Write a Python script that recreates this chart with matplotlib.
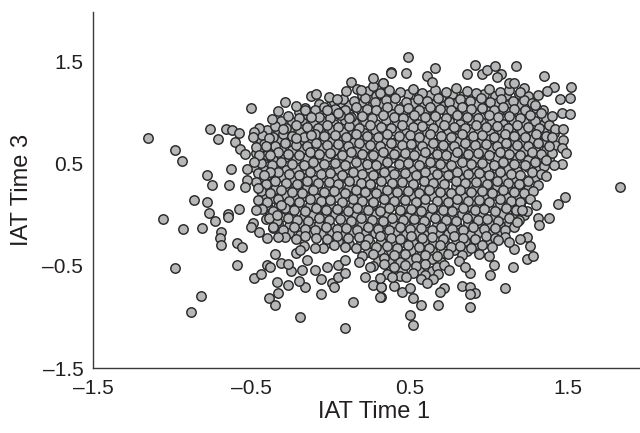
import matplotlib
matplotlib.use("Agg")
import matplotlib.pyplot as plt

plt.rcParams['font.family'] = ['Liberation Sans', 'DejaVu Sans']

tick_values = [-1.5, -0.5, 0.5, 1.5]
tick_labels = ['\u20131.5', '\u20130.5', '0.5', '1.5']

# Interior of the cloud, read band by band (IAT Time 1, IAT Time 3)
band_a = [(0.24,1.21),(0.31,1.19),(0.37,1.22),(0.44,1.2),(0.52,1.23),(0.58,1.19),(0.66,1.22),(0.73,1.2),(0.79,1.24),(0.86,1.21),(0.92,1.19),(1.0,1.23),(1.07,1.2),(1.13,1.22),(1.19,1.18),
(0.02,1.1),(0.08,1.13),(0.15,1.11),(0.22,1.14),(0.28,1.1),(0.35,1.12),(0.41,1.14),(0.48,1.1),(0.55,1.13),(0.61,1.11),(0.68,1.14),(0.75,1.1),(0.82,1.13),(0.88,1.11),(0.95,1.14),(1.01,1.1),(1.08,1.13),(1.15,1.11),(1.22,1.12),(1.27,1.09)]
band_b = [(-0.16,1.04),(-0.1,1.02),(-0.04,1.05),(0.03,1.03),(0.09,1.02),(0.16,1.05),(0.23,1.03),(0.29,1.02),(0.36,1.05),(0.43,1.03),(0.49,1.04),(0.56,1.02),(0.63,1.05),(0.69,1.03),(0.76,1.02),(0.83,1.05),(0.89,1.03),(0.96,1.04),(1.03,1.02),(1.09,1.05),(1.16,1.03),(1.23,1.02),(1.3,1.04),
(-0.27,0.96),(-0.2,0.94),(-0.14,0.97),(-0.07,0.95),(0.0,0.94),(0.06,0.97),(0.13,0.95),(0.2,0.96),(0.26,0.94),(0.33,0.97),(0.4,0.95),(0.46,0.94),(0.53,0.97),(0.6,0.95),(0.66,0.96),(0.73,0.94),(0.8,0.97),(0.86,0.95),(0.93,0.94),(1.0,0.97),(1.06,0.95),(1.13,0.96),(1.2,0.94),(1.26,0.97),(1.36,0.94)]
band_c = [(-0.35,0.87),(-0.28,0.85),(-0.22,0.88),(-0.15,0.86),(-0.08,0.85),(-0.02,0.88),(0.05,0.86),(0.12,0.87),(0.18,0.85),(0.25,0.88),(0.32,0.86),(0.38,0.85),(0.45,0.88),(0.52,0.86),(0.58,0.87),(0.65,0.85),(0.72,0.88),(0.78,0.86),(0.85,0.85),(0.92,0.88),(0.98,0.86),(1.05,0.87),(1.12,0.85),(1.18,0.88),(1.25,0.86),(1.32,0.85),(1.38,0.88),(1.42,0.84),
(-0.43,0.78),(-0.36,0.76),(-0.3,0.79),(-0.24,0.77),(-0.17,0.76),(-0.1,0.79),(-0.04,0.77),(0.03,0.78),(0.1,0.76),(0.16,0.79),(0.23,0.77),(0.3,0.76),(0.36,0.79),(0.43,0.77),(0.5,0.78),(0.56,0.76),(0.63,0.79),(0.7,0.77),(0.76,0.76),(0.83,0.79),(0.9,0.77),(0.96,0.78),(1.03,0.76),(1.1,0.79),(1.16,0.77),(1.23,0.76),(1.3,0.79),(1.36,0.77)]
band_d = [(-0.42,0.69),(-0.35,0.67),(-0.29,0.7),(-0.22,0.68),(-0.15,0.67),(-0.09,0.7),(-0.02,0.68),(0.05,0.69),(0.11,0.67),(0.18,0.7),(0.25,0.68),(0.31,0.67),(0.38,0.7),(0.45,0.68),(0.51,0.69),(0.58,0.67),(0.65,0.7),(0.71,0.68),(0.78,0.67),(0.85,0.7),(0.91,0.68),(0.98,0.69),(1.05,0.67),(1.11,0.7),(1.18,0.68),(1.25,0.67),(1.31,0.7),(1.42,0.68),
(-0.47,0.6),(-0.4,0.58),(-0.33,0.61),(-0.27,0.59),(-0.2,0.58),(-0.13,0.61),(-0.07,0.59),(0.0,0.6),(0.07,0.58),(0.13,0.61),(0.2,0.59),(0.27,0.58),(0.33,0.61),(0.4,0.59),(0.47,0.6),(0.53,0.58),(0.6,0.61),(0.67,0.59),(0.73,0.58),(0.8,0.61),(0.87,0.59),(0.93,0.6),(1.0,0.58),(1.07,0.61),(1.13,0.59),(1.2,0.58),(1.27,0.61),(1.33,0.59),(1.4,0.6)]
band_e = [(-0.44,0.5),(-0.37,0.48),(-0.31,0.51),(-0.24,0.49),(-0.17,0.48),(-0.11,0.51),(-0.04,0.49),(0.03,0.5),(0.09,0.48),(0.16,0.51),(0.23,0.49),(0.29,0.48),(0.36,0.51),(0.43,0.49),(0.49,0.5),(0.56,0.48),(0.63,0.51),(0.69,0.49),(0.76,0.48),(0.83,0.51),(0.89,0.49),(0.96,0.5),(1.03,0.48),(1.09,0.51),(1.16,0.49),(1.23,0.48),(1.29,0.51),(1.35,0.47),
(-0.46,0.41),(-0.4,0.39),(-0.33,0.42),(-0.26,0.4),(-0.2,0.39),(-0.13,0.42),(-0.06,0.4),(0.0,0.41),(0.07,0.39),(0.14,0.42),(0.2,0.4),(0.27,0.39),(0.34,0.42),(0.4,0.4),(0.47,0.41),(0.54,0.39),(0.6,0.42),(0.67,0.4),(0.74,0.39),(0.8,0.42),(0.87,0.4),(0.94,0.41),(1.0,0.39),(1.07,0.42),(1.14,0.4),(1.2,0.39),(1.27,0.42),(1.33,0.4)]
band_f = [(-0.47,0.32),(-0.41,0.3),(-0.35,0.33),(-0.28,0.31),(-0.21,0.3),(-0.15,0.33),(-0.08,0.31),(-0.01,0.32),(0.05,0.3),(0.12,0.33),(0.19,0.31),(0.25,0.3),(0.32,0.33),(0.39,0.31),(0.45,0.32),(0.52,0.3),(0.59,0.33),(0.65,0.31),(0.72,0.3),(0.79,0.33),(0.85,0.31),(0.92,0.32),(0.99,0.3),(1.05,0.33),(1.12,0.31),(1.19,0.3),(1.25,0.33),(1.31,0.29),
(-0.44,0.23),(-0.38,0.21),(-0.31,0.24),(-0.24,0.22),(-0.18,0.21),(-0.11,0.24),(-0.04,0.22),(0.02,0.23),(0.09,0.21),(0.16,0.24),(0.22,0.22),(0.29,0.21),(0.36,0.24),(0.42,0.22),(0.49,0.23),(0.56,0.21),(0.62,0.24),(0.69,0.22),(0.76,0.21),(0.82,0.24),(0.89,0.22),(0.96,0.23),(1.02,0.21),(1.09,0.24),(1.16,0.22),(1.22,0.21),(1.28,0.23)]
band_g = [(-0.46,0.14),(-0.4,0.12),(-0.33,0.15),(-0.26,0.13),(-0.2,0.12),(-0.13,0.15),(-0.06,0.13),(0.0,0.14),(0.07,0.12),(0.14,0.15),(0.2,0.13),(0.27,0.12),(0.34,0.15),(0.4,0.13),(0.47,0.14),(0.54,0.12),(0.6,0.15),(0.67,0.13),(0.74,0.12),(0.8,0.15),(0.87,0.13),(0.94,0.14),(1.0,0.12),(1.07,0.15),(1.14,0.13),(1.2,0.12),(1.26,0.15),
(-0.43,0.05),(-0.36,0.03),(-0.29,0.06),(-0.23,0.04),(-0.16,0.03),(-0.09,0.06),(-0.03,0.04),(0.04,0.05),(0.11,0.03),(0.17,0.06),(0.24,0.04),(0.31,0.03),(0.37,0.06),(0.44,0.04),(0.51,0.05),(0.57,0.03),(0.64,0.06),(0.71,0.04),(0.77,0.03),(0.84,0.06),(0.91,0.04),(0.97,0.05),(1.04,0.03),(1.11,0.06),(1.17,0.04),(1.24,0.03)]
band_h = [(-0.41,-0.04),(-0.34,-0.06),(-0.27,-0.03),(-0.21,-0.05),(-0.14,-0.06),(-0.07,-0.03),(-0.01,-0.05),(0.06,-0.04),(0.13,-0.06),(0.19,-0.03),(0.26,-0.05),(0.33,-0.06),(0.39,-0.03),(0.46,-0.05),(0.53,-0.04),(0.59,-0.06),(0.66,-0.03),(0.73,-0.05),(0.79,-0.06),(0.86,-0.03),(0.93,-0.05),(0.99,-0.04),(1.06,-0.06),(1.13,-0.03),(1.19,-0.05),
(-0.36,-0.13),(-0.3,-0.15),(-0.23,-0.12),(-0.16,-0.14),(-0.1,-0.15),(-0.03,-0.12),(0.04,-0.14),(0.1,-0.13),(0.17,-0.15),(0.24,-0.12),(0.3,-0.14),(0.37,-0.15),(0.44,-0.12),(0.5,-0.14),(0.57,-0.13),(0.64,-0.15),(0.7,-0.12),(0.77,-0.14),(0.84,-0.15),(0.9,-0.12),(0.97,-0.14),(1.04,-0.13),(1.1,-0.15),(1.16,-0.12)]
band_i = [(-0.29,-0.22),(-0.22,-0.24),(-0.16,-0.21),(-0.09,-0.23),(-0.02,-0.24),(0.04,-0.21),(0.11,-0.23),(0.18,-0.22),(0.24,-0.24),(0.31,-0.21),(0.38,-0.23),(0.44,-0.24),(0.51,-0.21),(0.58,-0.23),(0.64,-0.22),(0.71,-0.24),(0.78,-0.21),(0.84,-0.23),(0.91,-0.24),(0.98,-0.21),(1.04,-0.23),(1.1,-0.22),
(-0.17,-0.31),(-0.05,-0.33),(0.02,-0.3),(0.09,-0.32),(0.16,-0.33),(0.22,-0.3),(0.29,-0.32),(0.36,-0.31),(0.42,-0.33),(0.49,-0.3),(0.56,-0.32),(0.62,-0.33),(0.69,-0.3),(0.76,-0.32),(0.82,-0.31),(0.89,-0.33),(0.96,-0.3),
(0.2,-0.41),(0.27,-0.39),(0.34,-0.42),(0.4,-0.4),(0.47,-0.39),(0.54,-0.42),(0.6,-0.4),(0.67,-0.41),(0.74,-0.39),(0.83,-0.4),
(0.27,-0.5),(0.34,-0.48),(0.4,-0.51),(0.47,-0.49),(0.54,-0.5),(0.6,-0.48),(0.67,-0.51),(0.72,-0.49),
(0.36,-0.58),(0.44,-0.6),(0.52,-0.57),(0.6,-0.59),(0.68,-0.58)]

# Second reading of the interior, points showing between the first bands
fill_a = [(0.2,1.17),(0.29,1.16),(0.34,1.18),(0.41,1.15),(0.49,1.18),(0.56,1.16),(0.63,1.17),(0.7,1.15),(0.77,1.18),(0.84,1.16),(0.9,1.15),(0.97,1.18),(1.04,1.16),(1.11,1.17),(1.2,1.15),(1.25,1.16),
(-0.07,1.08),(0.0,1.06),(0.06,1.09),(0.12,1.07),(0.19,1.08),(0.26,1.06),(0.32,1.08),(0.39,1.07),(0.46,1.06),(0.52,1.09),(0.59,1.07),(0.66,1.08),(0.72,1.06),(0.79,1.09),(0.86,1.07),(0.92,1.08),(0.99,1.06),(1.05,1.09),(1.12,1.07),(1.19,1.08),(1.26,1.06),
(-0.2,1.0),(-0.13,0.99),(-0.07,1.01),(0.0,0.99),(0.06,1.0),(0.12,0.98),(0.19,1.01),(0.26,0.99),(0.33,1.0),(0.39,0.98),(0.46,1.01),(0.52,0.99),(0.59,1.0),(0.66,0.98),(0.73,1.01),(0.79,0.99),(0.86,1.0),(0.92,0.98),(0.99,1.01),(1.06,0.99),(1.12,1.0),(1.19,0.98),(1.26,1.01),(1.34,1.02)]
fill_b = [(-0.31,0.91),(-0.24,0.9),(-0.18,0.92),(-0.11,0.9),(-0.05,0.91),(0.02,0.89),(0.09,0.92),(0.15,0.9),(0.22,0.91),(0.29,0.89),(0.35,0.92),(0.42,0.9),(0.49,0.91),(0.55,0.89),(0.62,0.92),(0.69,0.9),(0.75,0.91),(0.82,0.89),(0.89,0.92),(0.95,0.9),(1.02,0.91),(1.09,0.89),(1.15,0.92),(1.22,0.9),(1.29,0.91),(1.35,0.89),
(-0.4,0.83),(-0.33,0.81),(-0.26,0.83),(-0.19,0.81),(-0.13,0.82),(-0.06,0.8),(0.01,0.83),(0.08,0.81),(0.14,0.82),(0.21,0.8),(0.28,0.83),(0.34,0.81),(0.41,0.82),(0.48,0.8),(0.54,0.83),(0.61,0.81),(0.68,0.82),(0.74,0.8),(0.81,0.83),(0.88,0.81),(0.94,0.82),(1.01,0.8),(1.08,0.83),(1.14,0.81),(1.21,0.82),(1.28,0.8),(1.34,0.83),(1.41,0.8),
(-0.44,0.73),(-0.38,0.72),(-0.32,0.74),(-0.25,0.72),(-0.19,0.73),(-0.12,0.71),(-0.05,0.74),(0.01,0.72),(0.08,0.73),(0.15,0.71),(0.21,0.74),(0.28,0.72),(0.35,0.73),(0.41,0.71),(0.48,0.74),(0.55,0.72),(0.61,0.73),(0.68,0.71),(0.75,0.74),(0.81,0.72),(0.88,0.73),(0.95,0.71),(1.01,0.74),(1.08,0.72),(1.15,0.73),(1.21,0.71),(1.28,0.74),(1.35,0.72)]
fill_c = [(-0.45,0.64),(-0.38,0.63),(-0.31,0.65),(-0.24,0.63),(-0.18,0.64),(-0.11,0.62),(-0.05,0.65),(0.02,0.63),(0.09,0.64),(0.16,0.62),(0.22,0.65),(0.29,0.63),(0.36,0.64),(0.42,0.62),(0.49,0.65),(0.56,0.63),(0.62,0.64),(0.69,0.62),(0.76,0.65),(0.82,0.63),(0.89,0.64),(0.96,0.62),(1.02,0.65),(1.09,0.63),(1.16,0.64),(1.22,0.62),(1.29,0.65),(1.36,0.63),
(-0.42,0.55),(-0.36,0.53),(-0.29,0.56),(-0.22,0.54),(-0.15,0.55),(-0.09,0.53),(-0.02,0.56),(0.05,0.54),(0.11,0.55),(0.18,0.53),(0.25,0.56),(0.31,0.54),(0.38,0.55),(0.45,0.53),(0.51,0.56),(0.58,0.54),(0.65,0.55),(0.71,0.53),(0.78,0.56),(0.85,0.54),(0.91,0.55),(0.98,0.53),(1.05,0.56),(1.11,0.54),(1.18,0.55),(1.25,0.53),(1.31,0.56),(1.38,0.54),
(-0.48,0.46),(-0.42,0.44),(-0.35,0.46),(-0.28,0.44),(-0.22,0.45),(-0.15,0.43),(-0.08,0.46),(-0.02,0.44),(0.05,0.45),(0.12,0.43),(0.18,0.46),(0.25,0.44),(0.32,0.45),(0.38,0.43),(0.45,0.46),(0.52,0.44),(0.58,0.45),(0.65,0.43),(0.72,0.46),(0.78,0.44),(0.85,0.45),(0.92,0.43),(0.98,0.46),(1.05,0.44),(1.12,0.45),(1.18,0.43),(1.25,0.46),(1.31,0.44)]
fill_d = [(-0.44,0.36),(-0.37,0.35),(-0.3,0.37),(-0.24,0.35),(-0.17,0.36),(-0.1,0.34),(-0.04,0.37),(0.03,0.35),(0.1,0.36),(0.16,0.34),(0.23,0.37),(0.3,0.35),(0.36,0.36),(0.43,0.34),(0.5,0.37),(0.56,0.35),(0.63,0.36),(0.7,0.34),(0.76,0.37),(0.83,0.35),(0.9,0.36),(0.96,0.34),(1.03,0.37),(1.1,0.35),(1.16,0.36),(1.23,0.34),(1.29,0.37),
(-0.42,0.27),(-0.35,0.25),(-0.28,0.28),(-0.21,0.26),(-0.15,0.27),(-0.08,0.25),(-0.01,0.28),(0.05,0.26),(0.12,0.27),(0.19,0.25),(0.25,0.28),(0.32,0.26),(0.39,0.27),(0.45,0.25),(0.52,0.28),(0.59,0.26),(0.65,0.27),(0.72,0.25),(0.79,0.28),(0.85,0.26),(0.92,0.27),(0.99,0.25),(1.05,0.28),(1.12,0.26),(1.19,0.27),(1.25,0.25),
(-0.42,0.18),(-0.36,0.16),(-0.29,0.19),(-0.23,0.17),(-0.16,0.18),(-0.09,0.16),(-0.03,0.19),(0.04,0.17),(0.11,0.18),(0.17,0.16),(0.24,0.19),(0.31,0.17),(0.37,0.18),(0.44,0.16),(0.51,0.19),(0.57,0.17),(0.64,0.18),(0.71,0.16),(0.77,0.19),(0.84,0.17),(0.91,0.18),(0.97,0.16),(1.04,0.19),(1.11,0.17),(1.17,0.18),(1.24,0.16)]
fill_e = [(-0.4,0.09),(-0.33,0.07),(-0.26,0.1),(-0.2,0.08),(-0.13,0.09),(-0.06,0.07),(0.0,0.1),(0.07,0.08),(0.14,0.09),(0.2,0.07),(0.27,0.1),(0.34,0.08),(0.4,0.09),(0.47,0.07),(0.54,0.1),(0.6,0.08),(0.67,0.09),(0.74,0.07),(0.8,0.1),(0.87,0.08),(0.94,0.09),(1.0,0.07),(1.07,0.1),(1.14,0.08),(1.2,0.09),
(-0.38,0.0),(-0.31,-0.02),(-0.24,0.01),(-0.17,-0.01),(-0.11,0.0),(-0.04,-0.02),(0.03,0.01),(0.09,-0.01),(0.16,0.0),(0.23,-0.02),(0.29,0.01),(0.36,-0.01),(0.43,0.0),(0.49,-0.02),(0.56,0.01),(0.63,-0.01),(0.69,0.0),(0.76,-0.02),(0.83,0.01),(0.89,-0.01),(0.96,0.0),(1.03,-0.02),(1.09,0.01),(1.16,-0.01),(1.22,0.0),
(-0.33,-0.09),(-0.26,-0.11),(-0.2,-0.08),(-0.13,-0.1),(-0.07,-0.09),(0.0,-0.11),(0.07,-0.08),(0.13,-0.1),(0.2,-0.09),(0.27,-0.11),(0.33,-0.08),(0.4,-0.1),(0.47,-0.09),(0.53,-0.11),(0.6,-0.08),(0.67,-0.1),(0.73,-0.09),(0.8,-0.11),(0.87,-0.08),(0.93,-0.1),(1.0,-0.09),(1.07,-0.11),(1.13,-0.08)]
fill_f = [(-0.26,-0.18),(-0.19,-0.2),(-0.12,-0.17),(-0.06,-0.19),(0.01,-0.18),(0.08,-0.2),(0.14,-0.17),(0.21,-0.19),(0.28,-0.18),(0.34,-0.2),(0.41,-0.17),(0.48,-0.19),(0.54,-0.18),(0.61,-0.2),(0.68,-0.17),(0.74,-0.19),(0.81,-0.18),(0.88,-0.2),(0.94,-0.17),(1.01,-0.19),(1.07,-0.18),
(-0.02,-0.28),(0.05,-0.26),(0.12,-0.29),(0.19,-0.27),(0.25,-0.28),(0.32,-0.26),(0.39,-0.29),(0.45,-0.27),(0.52,-0.28),(0.59,-0.26),(0.65,-0.29),(0.72,-0.27),(0.79,-0.28),(0.85,-0.26),(0.92,-0.29),(0.99,-0.27),
(0.24,-0.37),(0.31,-0.35),(0.38,-0.36),(0.44,-0.38),(0.51,-0.35),(0.58,-0.37),(0.64,-0.36),(0.71,-0.38),(0.78,-0.35),(0.86,-0.36),
(0.3,-0.45),(0.37,-0.44),(0.44,-0.46),(0.5,-0.44),(0.57,-0.45),(0.64,-0.43),(0.7,-0.46),
(0.38,-0.54),(0.45,-0.55),(0.56,-0.54),(0.64,-0.55)]

# Points at the rim of the cloud and the outliers, read one by one
rim_upper_left = [(-1.15,0.75),(-0.98,0.63),(-0.94,0.52),(-0.76,0.84),(-0.71,0.74),(-0.66,0.84),(-0.62,0.83),(-0.58,0.8),(-0.6,0.71),(-0.57,0.64),(-0.54,0.59),(-0.5,1.04),(-0.63,0.45),(-0.78,0.39),(-0.75,0.29),(-0.64,0.29),(-0.53,0.34),(-0.54,0.27),(-0.46,0.26),(-0.29,1.1),(-0.37,0.93),(-0.33,1.01),(-0.22,1.06),(-0.12,1.16),(-0.09,1.18),(-0.01,1.15),(0.04,1.13),(0.1,1.21),(0.13,1.3),(0.17,1.23),(0.19,1.22),(0.27,1.26),(0.27,1.33),(0.33,1.29),(0.38,1.39),(-0.45,0.85),(-0.48,0.81),(-0.49,0.76),(-0.39,0.75),(-0.41,0.67),(-0.47,0.66),(-0.45,0.58),(-0.48,0.51),(-0.53,0.45),(-0.38,0.58),(-0.38,0.42),(-0.42,0.39),(-0.3,0.84),(-0.22,0.75),(-0.16,1.02),(-0.12,0.95),(-0.12,0.78),(-0.02,1.02),(0.05,0.99),(0.12,0.94)]
rim_upper_right = [(0.49,1.54),(0.38,1.38),(0.48,1.38),(0.66,1.43),(0.61,1.35),(0.64,1.3),(0.33,1.29),(0.91,1.46),(0.86,1.37),(0.96,1.37),(0.99,1.41),(1.04,1.45),(1.08,1.37),(1.17,1.45),(1.35,1.35),(1.41,1.25),(1.52,1.25),(1.45,1.13),(1.51,1.14),(1.37,1.21),(1.31,1.17),(1.46,0.99),(1.51,0.98),(1.4,0.96),(1.47,0.84),(1.47,0.73),(1.4,0.76),(1.38,0.67),(1.46,0.65),(1.49,0.6),(1.46,0.49),(1.41,0.48),(1.36,0.53),(1.36,0.38),(1.83,0.27),(1.22,1.24),(1.13,1.29),(1.16,1.29),(1.05,1.34),(1.2,1.2),(1.29,1.07),(1.33,0.99)]
rim_lower_right = [(1.48,0.17),(1.44,0.1),(1.3,0.09),(1.38,-0.03),(1.31,-0.03),(1.32,-0.1),(1.21,0.04),(1.18,-0.07),(1.24,-0.22),(1.2,-0.24),(1.26,-0.31),(1.16,-0.34),(1.24,-0.43),(1.28,-0.41),(1.15,-0.51),(1.03,-0.49),(1.01,-0.59),(1.1,-0.72),(0.88,-0.57),(0.83,-0.7),(0.88,-0.71),(0.91,-0.77),(0.88,-0.78),(0.88,-0.9),(0.72,-0.72),(0.69,-0.76),(0.68,-0.88),(0.57,-0.88),(0.52,-0.82),(0.5,-0.98),(0.52,-1.08),(0.45,-0.76),(0.4,-0.7),(0.32,-0.81),(0.5,-0.72),(0.65,-0.63),(0.57,-0.63),(0.61,-0.67),(0.48,-0.61),(0.39,-0.61),(0.32,-0.71),(0.75,-0.54),(0.94,-0.39),(1.0,-0.41),(1.06,-0.25),(1.02,-0.32),(1.13,-0.27),(0.81,-0.45),(0.85,-0.51)]
rim_lower_left = [(-1.06,-0.04),(-0.86,0.14),(-0.78,0.12),(-0.77,0.02),(-0.73,-0.06),(-0.81,-0.13),(-0.93,-0.14),(-0.65,0.01),(-0.65,-0.02),(-0.58,0.05),(-0.69,-0.17),(-0.7,-0.23),(-0.69,-0.3),(-0.59,-0.28),(-0.56,-0.32),(-0.98,-0.52),(-0.59,-0.49),(-0.82,-0.8),(-0.88,-0.95),(-0.48,-0.62),(-0.44,-0.58),(-0.4,-0.49),(-0.38,-0.51),(-0.35,-0.39),(-0.34,-0.66),(-0.27,-0.69),(-0.33,-0.77),(-0.39,-0.82),(-0.35,-0.88),(-0.19,-1.0),(0.09,-1.11),(0.14,-0.85),(-0.06,-0.78),(-0.16,-0.71),(-0.2,-0.65),(-0.06,-0.63),(0.01,-0.67),(0.02,-0.71),(0.05,-0.61),(0.09,-0.57),(-0.25,-0.55),(-0.31,-0.47),(-0.27,-0.48),(-0.18,-0.54),(-0.1,-0.54),(-0.15,-0.44),(-0.02,-0.51),(0.05,-0.49),(0.09,-0.44),(0.18,-0.46),(0.22,-0.61),(0.27,-0.69),(0.32,-0.71),(0.31,-0.81),(0.31,-0.62),(0.25,-0.51),(-0.1,-0.33),(-0.22,-0.38),(-0.19,-0.35),(-0.33,-0.22),(-0.4,-0.23),(-0.45,-0.17),(-0.36,-0.12),(-0.49,-0.08),(-0.5,-0.12),(-0.47,0.04),(-0.39,-0.03),(-0.34,0.0),(-0.31,0.09)]

groups = [fill_a, fill_b, fill_c, fill_d, fill_e, fill_f,
          band_a, band_b, band_c, band_d, band_e, band_f, band_g, band_h, band_i,
          rim_upper_left, rim_upper_right, rim_lower_right, rim_lower_left]

time1 = [p[0] for g in groups for p in g]
time3 = [p[1] for g in groups for p in g]

fig = plt.figure(figsize=(6.4, 4.33), dpi=100)
ax = fig.add_axes([93/640, 1 - 368/433, 1 - 93/640, (368 - 12)/433])

ax.scatter(time1, time3, s=46, facecolor='#b6b7b9', edgecolor='#2a2a2a',
           linewidth=1.05, clip_on=False, zorder=3)

ax.set_xlim(-1.5, 1.955)
ax.set_ylim(-1.5, 1.98)
ax.set_xticks(tick_values)
ax.set_xticklabels(tick_labels)
ax.set_yticks(tick_values)
ax.set_yticklabels(tick_labels)
ax.tick_params(axis='x', length=0, pad=8, labelsize=15, colors='#231f20')
ax.tick_params(axis='y', length=0, pad=7, labelsize=15, colors='#231f20')

for side in ('top', 'right'):
    ax.spines[side].set_visible(False)
for side in ('left', 'bottom'):
    ax.spines[side].set_color('#3a3a3a')
    ax.spines[side].set_linewidth(1.0)

ax.set_xlabel('IAT Time 1', fontsize=17, color='#231f20', labelpad=2, x=0.514)
ax.set_ylabel('IAT Time 3', fontsize=17, color='#231f20', labelpad=6.5)

fig.savefig('out.png', dpi=100)
